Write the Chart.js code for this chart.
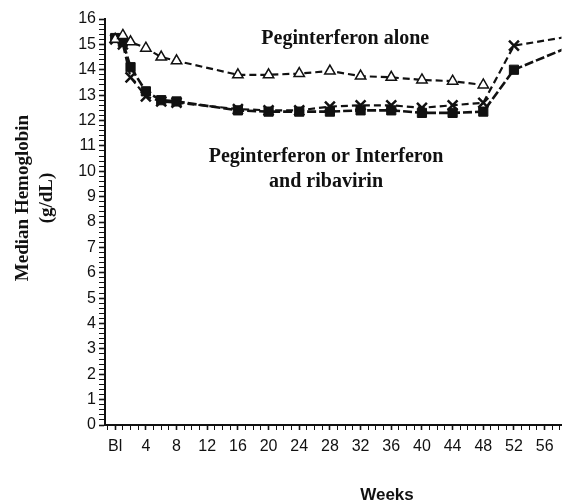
<!DOCTYPE html>
<html>
<head>
<meta charset="utf-8">
<script src="https://cdn.jsdelivr.net/npm/chart.js@4/dist/chart.umd.min.js"></script>
<style>
html,body{margin:0;padding:0;background:#fff;}
#wrap{width:571px;height:502px;}
</style>
</head>
<body>
<div id="wrap"><canvas id="c" width="571" height="502"></canvas></div>
<script>
// ---- data ----
const weeksAlone = [0, 1, 2, 4, 6, 8, 16, 20, 24, 28, 32, 36, 40, 44, 48];
const pegAlone   = [15.2, 15.35, 15.1, 14.85, 14.5, 14.35, 13.8, 13.8, 13.85, 13.95, 13.75, 13.7, 13.6, 13.55, 13.4];

const weeksCombo = [0, 1, 2, 4, 6, 8, 16, 20, 24, 28, 32, 36, 40, 44, 48, 52, 60];
const pegRibaX   = [15.2, 15.0, 13.7, 12.95, 12.75, 12.7, 12.45, 12.4, 12.4, 12.55, 12.6, 12.6, 12.5, 12.6, 12.7, 14.95, 15.35];
const ifnRibaSq  = [15.25, 15.1, 14.1, 13.15, 12.8, 12.75, 12.4, 12.35, 12.35, 12.35, 12.4, 12.4, 12.3, 12.3, 12.35, 14.0, 15.0];

const xTickLabelStep = 4;
const baselineLabel = 'Bl';
const xAxisTitle = 'Weeks';
const yAxisTitle = ['Median Hemoglobin', '(g/dL)'];
const noteAlone = 'Peginterferon alone';
const noteCombo = ['Peginterferon or Interferon', 'and ribavirin'];

const pts = (xs, ys) => xs.map((x, i) => ({x: x, y: ys[i]}));

const textPlugin = {
  id: 'texts',
  afterDraw(chart) {
    const ctx = chart.ctx;
    const xs = chart.scales.x, ys = chart.scales.y;
    ctx.save();
    ctx.fillStyle = '#111';
    ctx.textAlign = 'center';
    ctx.textBaseline = 'middle';
    // in-plot notes, anchored in data units
    ctx.font = 'bold 20px "Liberation Serif", "Times New Roman", serif';
    ctx.fillText(noteAlone, xs.getPixelForValue(30), ys.getPixelForValue(15.23));
    ctx.fillText(noteCombo[0], xs.getPixelForValue(27.5), ys.getPixelForValue(10.56));
    ctx.fillText(noteCombo[1], xs.getPixelForValue(27.5), ys.getPixelForValue(9.6));
    // x axis title
    ctx.font = 'bold 17px "Liberation Sans", Arial, sans-serif';
    ctx.fillText(xAxisTitle, 387, 495);
    // y axis title (rotated)
    ctx.font = 'bold 19px "Liberation Serif", "Times New Roman", serif';
    ctx.translate(23, 198);
    ctx.rotate(-Math.PI / 2);
    ctx.fillText(yAxisTitle[0], 0, 0);
    ctx.fillText(yAxisTitle[1], 0, 24);
    ctx.restore();
  }
};

new Chart(document.getElementById('c'), {
  type: 'line',
  data: {
    datasets: [
      {
        label: 'Peginterferon alone',
        data: pts(weeksAlone, pegAlone),
        borderColor: '#111', borderWidth: 2.2, borderDash: [7, 4],
        pointStyle: 'triangle', pointRadius: 6, pointBorderWidth: 1.5,
        pointBackgroundColor: '#fff', pointBorderColor: '#111', tension: 0
      },
      {
        label: 'Peginterferon and ribavirin',
        data: pts(weeksCombo, pegRibaX),
        borderColor: '#111', borderWidth: 2.2, borderDash: [7, 4],
        pointStyle: 'crossRot', pointRadius: 7, pointBorderWidth: 2.5,
        pointBackgroundColor: '#111', pointBorderColor: '#111', tension: 0
      },
      {
        label: 'Interferon and ribavirin',
        data: pts(weeksCombo, ifnRibaSq),
        borderColor: '#111', borderWidth: 2.6, borderDash: [9, 3],
        pointStyle: 'rect', pointRadius: 6.5, pointBorderWidth: 1,
        pointBackgroundColor: '#111', pointBorderColor: '#111', tension: 0
      }
    ]
  },
  options: {
    responsive: false,
    animation: false,
    layout: {padding: {top: 19, right: 0, left: 0, bottom: 0}},
    plugins: {legend: {display: false}, tooltip: {enabled: false}},
    scales: {
      x: {
        type: 'linear', min: -1.33, max: 58.2,
        afterFit(s) { s.height = 77; },
        afterBuildTicks(s) {
          const t = [];
          for (let v = -1; v <= 58; v++) t.push({value: v});
          s.ticks = t;
        },
        ticks: {
          autoSkip: false, maxRotation: 0, padding: 7, color: '#111',
          font: {family: '"Liberation Sans", Arial, sans-serif', size: 16},
          callback(v) {
            if (v === 0) return baselineLabel;
            return (v > 0 && v % xTickLabelStep === 0) ? String(v) : '';
          }
        },
        grid: {
          drawOnChartArea: false, drawTicks: true, tickLength: 5, color: '#111',
          tickWidth: (c) => (c.tick && c.tick.value % xTickLabelStep === 0 ? 1.6 : 1)
        },
        border: {display: true, color: '#111', width: 2}
      },
      y: {
        type: 'linear', min: 0, max: 16,
        afterFit(s) { s.width = 105; },
        afterBuildTicks(s) {
          const t = [];
          for (let k = 0; k <= 80; k++) t.push({value: Math.round(k * 2) / 10});
          s.ticks = t;
        },
        ticks: {
          autoSkip: false, padding: 3, color: '#111',
          font: {family: '"Liberation Sans", Arial, sans-serif', size: 16},
          callback(v) {
            const r = Math.round(v * 10) / 10;
            return Number.isInteger(r) ? String(r) : '';
          }
        },
        grid: {
          drawOnChartArea: false, drawTicks: true, tickLength: 6, color: '#111',
          tickWidth: (c) => (c.tick && Number.isInteger(Math.round(c.tick.value * 10) / 10) ? 1.6 : 1)
        },
        border: {display: true, color: '#111', width: 2}
      }
    }
  },
  plugins: [textPlugin]
});
</script>
</body>
</html>
